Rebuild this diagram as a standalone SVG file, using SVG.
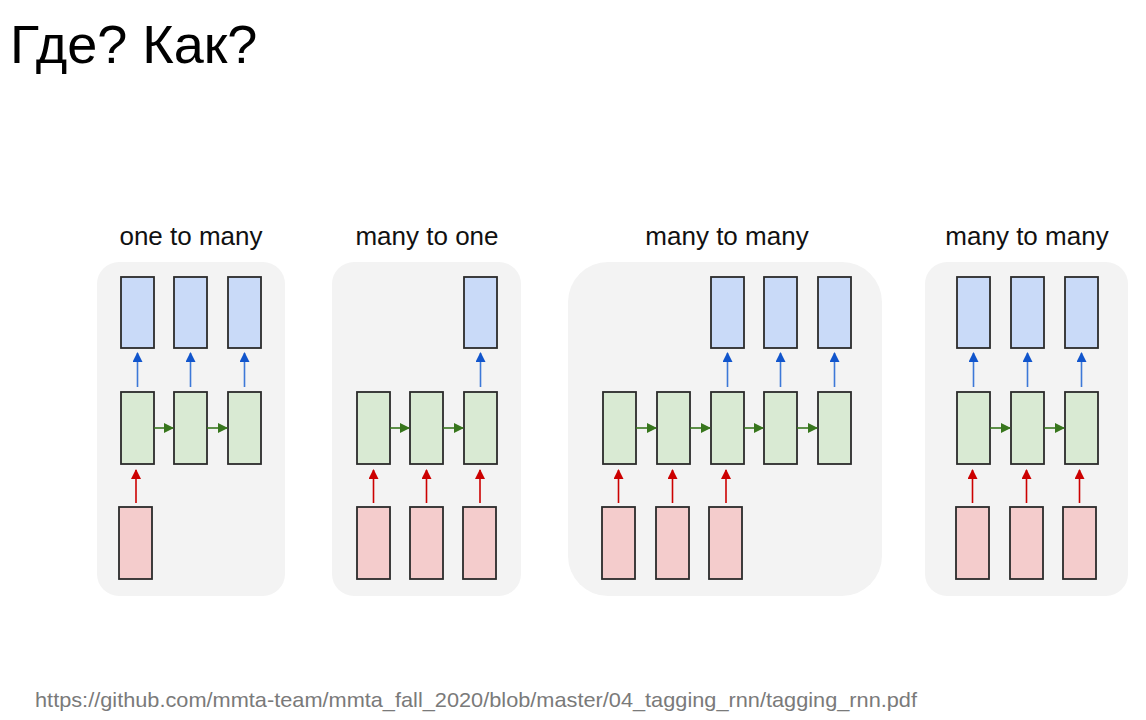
<svg xmlns="http://www.w3.org/2000/svg" width="1146" height="720" viewBox="0 0 1146 720">
<style>
.bg{fill:#f3f3f3}
.b{fill:#c9daf8;stroke:#2b2b2b;stroke-width:1.8}
.g{fill:#d9ead3;stroke:#2b2b2b;stroke-width:1.8}
.r{fill:#f4cccc;stroke:#2b2b2b;stroke-width:1.8}
.ab{stroke:#3c78d8;stroke-width:1.6;fill:none;marker-end:url(#mb)}
.ag{stroke:#38761d;stroke-width:1.6;fill:none;marker-end:url(#mg)}
.ar{stroke:#cc0000;stroke-width:1.6;fill:none;marker-end:url(#mr)}
.t{font-family:"Liberation Sans",Arial,sans-serif;font-size:26px;fill:#111;text-anchor:middle}
</style>
<defs>
<marker id="mb" viewBox="0 0 10 10" refX="9" refY="5" markerWidth="12" markerHeight="10" orient="auto" markerUnits="userSpaceOnUse"><path d="M0,0 L10,5 L0,10 z" fill="#1155cc"/></marker>
<marker id="mg" viewBox="0 0 10 10" refX="9" refY="5" markerWidth="12" markerHeight="10" orient="auto" markerUnits="userSpaceOnUse"><path d="M0,0 L10,5 L0,10 z" fill="#38761d"/></marker>
<marker id="mr" viewBox="0 0 10 10" refX="9" refY="5" markerWidth="12" markerHeight="10" orient="auto" markerUnits="userSpaceOnUse"><path d="M0,0 L10,5 L0,10 z" fill="#cc0000"/></marker>
</defs>
<rect width="1146" height="720" fill="#fff"/>
<text x="10" y="63" font-family="Liberation Sans,Arial,sans-serif" font-size="54" fill="#000">Где? Как?</text>

<g id="panel1">
<rect class="bg" x="97" y="262" width="188" height="334" rx="22"/>
<text class="t" x="191" y="245">one to many</text>
</g>
<g id="panel2">
<rect class="bg" x="332" y="262" width="189" height="334" rx="22"/>
<text class="t" x="427" y="245">many to one</text>
</g>
<g id="panel3">
<rect class="bg" x="568" y="262" width="314" height="334" rx="40"/>
<text class="t" x="727" y="245">many to many</text>
</g>
<g id="panel4">
<rect class="bg" x="925" y="262" width="203" height="334" rx="22"/>
<text class="t" x="1027" y="245">many to many</text>
</g>

<g id="p1-out1"><rect class="b" x="121" y="277" width="33" height="71"/></g>
<g id="p1-out2"><rect class="b" x="174" y="277" width="33" height="71"/></g>
<g id="p1-out3"><rect class="b" x="228" y="277" width="33" height="71"/></g>
<g id="p1-h1"><rect class="g" x="121" y="392" width="33" height="72"/></g>
<g id="p1-h2"><rect class="g" x="174" y="392" width="33" height="72"/></g>
<g id="p1-h3"><rect class="g" x="228" y="392" width="33" height="72"/></g>
<g id="p1-in1"><rect class="r" x="119" y="507" width="33" height="72"/></g>

<g id="p2-out3"><rect class="b" x="464" y="277" width="33" height="71"/></g>
<g id="p2-h1"><rect class="g" x="357" y="392" width="33" height="72"/></g>
<g id="p2-h2"><rect class="g" x="410" y="392" width="33" height="72"/></g>
<g id="p2-h3"><rect class="g" x="464" y="392" width="33" height="72"/></g>
<g id="p2-in1"><rect class="r" x="357" y="507" width="33" height="72"/></g>
<g id="p2-in2"><rect class="r" x="410" y="507" width="33" height="72"/></g>
<g id="p2-in3"><rect class="r" x="463" y="507" width="33" height="72"/></g>

<g id="p3-out3"><rect class="b" x="711" y="277" width="33" height="71"/></g>
<g id="p3-out4"><rect class="b" x="764" y="277" width="33" height="71"/></g>
<g id="p3-out5"><rect class="b" x="818" y="277" width="33" height="71"/></g>
<g id="p3-h1"><rect class="g" x="603" y="392" width="33" height="72"/></g>
<g id="p3-h2"><rect class="g" x="657" y="392" width="33" height="72"/></g>
<g id="p3-h3"><rect class="g" x="711" y="392" width="33" height="72"/></g>
<g id="p3-h4"><rect class="g" x="764" y="392" width="33" height="72"/></g>
<g id="p3-h5"><rect class="g" x="818" y="392" width="33" height="72"/></g>
<g id="p3-in1"><rect class="r" x="602" y="507" width="33" height="72"/></g>
<g id="p3-in2"><rect class="r" x="656" y="507" width="33" height="72"/></g>
<g id="p3-in3"><rect class="r" x="709" y="507" width="33" height="72"/></g>

<g id="p4-out1"><rect class="b" x="957" y="277" width="33" height="71"/></g>
<g id="p4-out2"><rect class="b" x="1011" y="277" width="33" height="71"/></g>
<g id="p4-out3"><rect class="b" x="1065" y="277" width="33" height="71"/></g>
<g id="p4-h1"><rect class="g" x="957" y="392" width="33" height="72"/></g>
<g id="p4-h2"><rect class="g" x="1011" y="392" width="33" height="72"/></g>
<g id="p4-h3"><rect class="g" x="1065" y="392" width="33" height="72"/></g>
<g id="p4-in1"><rect class="r" x="956" y="507" width="33" height="72"/></g>
<g id="p4-in2"><rect class="r" x="1010" y="507" width="33" height="72"/></g>
<g id="p4-in3"><rect class="r" x="1063" y="507" width="33" height="72"/></g>

<g id="connectors">
<path class="ab" d="M137.5,387V353"/>
<path class="ab" d="M190.5,387V353"/>
<path class="ab" d="M244.5,387V353"/>
<path class="ag" d="M154,428H173"/>
<path class="ag" d="M207,428H227"/>
<path class="ar" d="M136,503V470"/>

<path class="ab" d="M480.5,387V353"/>
<path class="ag" d="M390,428H409"/>
<path class="ag" d="M443,428H463"/>
<path class="ar" d="M373.5,503V470"/>
<path class="ar" d="M426.5,503V470"/>
<path class="ar" d="M480,503V470"/>

<path class="ab" d="M727.5,387V353"/>
<path class="ab" d="M780.5,387V353"/>
<path class="ab" d="M834.5,387V353"/>
<path class="ag" d="M636,428H656"/>
<path class="ag" d="M690,428H710"/>
<path class="ag" d="M744,428H763"/>
<path class="ag" d="M797,428H817"/>
<path class="ar" d="M618.5,503V470"/>
<path class="ar" d="M672.5,503V470"/>
<path class="ar" d="M726,503V470"/>

<path class="ab" d="M973.5,387V353"/>
<path class="ab" d="M1027.5,387V353"/>
<path class="ab" d="M1081.5,387V353"/>
<path class="ag" d="M990,428H1010"/>
<path class="ag" d="M1044,428H1064"/>
<path class="ar" d="M972.5,503V470"/>
<path class="ar" d="M1026.5,503V470"/>
<path class="ar" d="M1079.5,503V470"/>
</g>

<text x="35" y="707" font-family="Liberation Sans,Arial,sans-serif" font-size="21" fill="#7a7a7a" textLength="882" lengthAdjust="spacingAndGlyphs">https://github.com/mmta-team/mmta_fall_2020/blob/master/04_tagging_rnn/tagging_rnn.pdf</text>
</svg>
